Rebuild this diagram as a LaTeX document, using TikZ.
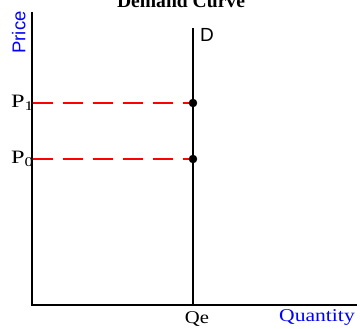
\documentclass[tikz,border=0pt]{standalone}
\usepackage{fontspec}
\setmainfont{Liberation Serif}
\setsansfont{Liberation Sans}
\begin{document}
\begin{tikzpicture}[x=1pt,y=-1pt,
  axis/.style={line width=1.6pt,black},
  guide/.style={line width=2pt,red,dash pattern=on 20pt off 10pt},
  dot/.style={circle,fill=black,draw=black,inner sep=0pt,minimum size=8pt},
  lbl/.style={inner sep=0pt,font=\fontsize{18}{20}\selectfont},
  blue lbl/.style={lbl,text=blue}]
\useasboundingbox (0,0) rectangle (360,329);
\clip (0,0) rectangle (360,329);
% axes
\coordinate (O) at (32,305);
\coordinate (ytop) at (32,12);
\coordinate (xend) at (357,305);
\draw[axis] (ytop) -- (O) -- (xend);
% demand line
\coordinate (Dtop) at (193,28);
\coordinate (Dbot) at (193,305);
\draw[axis,line width=1.4pt] (Dtop) -- (Dbot);
% guides and points
\coordinate (a1) at (33,103);
\coordinate (a0) at (33,159);
\coordinate (b1) at (193,103);
\coordinate (b0) at (193,159);
\draw[guide] (a1) -- (b1);
\draw[guide] (a0) -- (b0);
\node[dot] (e1) at (b1) {};
\node[dot] (e0) at (b0) {};
% labels
\node[lbl,anchor=base west] (p1) at (11,108) {\scalebox{1.35}[1.05]{P\textsubscript{1}}};
\node[lbl,anchor=base west] (p0) at (11,164) {\scalebox{1.35}[1.05]{P\textsubscript{0}}};
\node[lbl,anchor=base] (qe) at (197,324) {\scalebox{1.15}[1]{Qe}};
\node[blue lbl,anchor=base] (qty) at (317,322) {\scalebox{1.2}[1]{Quantity}};
\node[blue lbl,font=\sffamily\fontsize{18.5}{20}\selectfont,rotate=90,anchor=base] (price) at (25.5,32.5) {Price};
\node[lbl,font=\sffamily\fontsize{19}{20}\selectfont,anchor=base west] (D) at (200,42) {D};
\node[lbl,font=\bfseries\fontsize{19.6}{22}\selectfont,anchor=base] (title) at (181,8) {Demand Curve};
\end{tikzpicture}
\end{document}
